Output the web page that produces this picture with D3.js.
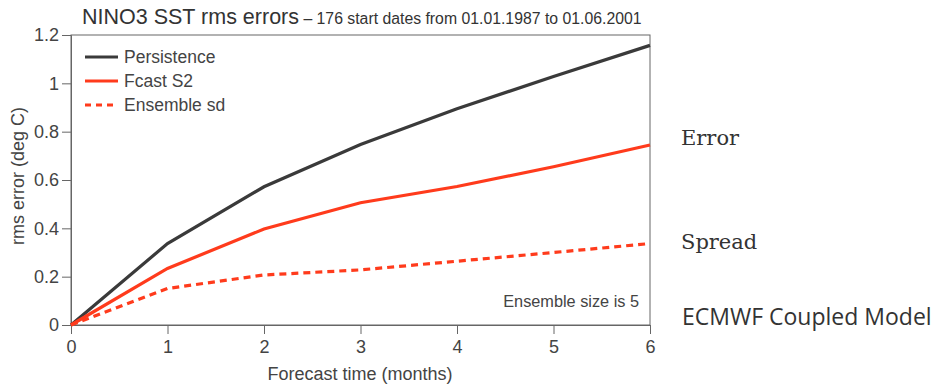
<!DOCTYPE html>
<html>
<head>
<meta charset="utf-8">
<script src="https://cdn.jsdelivr.net/npm/d3@7"></script>
<style>
  body { margin: 0; background: #fff; }
  svg { display: block; font-family: "Liberation Sans", Arial, sans-serif; }
  .axis path, .axis line { stroke: #666; }
  .axis text { fill: #444; font-size: 18px; font-family: "Liberation Sans", Arial, sans-serif; }
</style>
</head>
<body>
<div id="chart"></div>
<script>
const months = [0, 1, 2, 3, 4, 5, 6];
const persistence = [0, 0.337, 0.572, 0.747, 0.895, 1.028, 1.157];
const fcastS2 = [0, 0.234, 0.397, 0.506, 0.573, 0.655, 0.745];
const ensembleSd = [0, 0.151, 0.207, 0.228, 0.264, 0.300, 0.337];
const yTicks = [0, 0.2, 0.4, 0.6, 0.8, 1, 1.2];
const seriesNames = ["Persistence", "Fcast S2", "Ensemble sd"];
const sideLabels = ["Error", "Spread"];

function initLineGraph(selector) {
    const margin = {top: 35, right: 283, bottom: 60, left: 71};
    const width = 933 - margin.left - margin.right;
    const height = 385 - margin.top - margin.bottom;

    const xScale = d3.scaleLinear().domain([0, 6]).range([0, width]);
    const yScale = d3.scaleLinear().domain([0, 1.2]).range([height, 0]);

    const root = d3.select(selector).append("svg")
        .attr("width", 933)
        .attr("height", 385);

    const svg = root.append("g")
        .attr("transform", `translate(${margin.left}, ${margin.top})`);

    // frame
    svg.append("rect")
        .attr("width", width).attr("height", height)
        .attr("fill", "none").attr("stroke", "#666").attr("stroke-width", 1);

    svg.append("g")
        .attr("class", "x axis")
        .attr("transform", `translate(0, ${height})`)
        .call(d3.axisBottom(xScale).tickValues(months).tickSize(9).tickPadding(6).tickFormat(d3.format("d")));
    svg.append("g")
        .attr("class", "y axis")
        .call(d3.axisLeft(yScale).tickValues(yTicks).tickSize(9).tickPadding(3).tickFormat(d3.format("~g")));

    const line = d3.line()
        .x((d, i) => xScale(months[i]))
        .y(d => yScale(d));

    const styles = [
        {data: persistence, color: "#3a3a3a", dash: null},
        {data: fcastS2, color: "#ff3b1c", dash: null},
        {data: ensembleSd, color: "#ff3b1c", dash: "7,5"}
    ];

    styles.forEach(s => {
        svg.append("path")
            .datum(s.data)
            .attr("fill", "none")
            .attr("stroke", s.color)
            .attr("stroke-width", 3.2)
            .attr("stroke-dasharray", s.dash)
            .attr("d", line);
    });

    // legend
    const legend = svg.append("g").attr("transform", "translate(14, 22)");
    styles.forEach((s, i) => {
        const g = legend.append("g").attr("transform", `translate(0, ${i * 24})`);
        g.append("line")
            .attr("x1", 0).attr("x2", 33)
            .attr("stroke", s.color).attr("stroke-width", 3.2)
            .attr("stroke-dasharray", s.dash ? "6,5" : null);
        g.append("text")
            .attr("x", 39).attr("y", 6)
            .attr("fill", "#444").attr("font-size", 17.5)
            .text(seriesNames[i]);
    });

    svg.append("text")
        .attr("x", width - 11).attr("y", height - 18)
        .attr("text-anchor", "end")
        .attr("fill", "#444").attr("font-size", 16.3)
        .text("Ensemble size is 5");

    // axis titles
    svg.append("text")
        .attr("x", 360 - margin.left).attr("y", height + 55)
        .attr("text-anchor", "middle")
        .attr("fill", "#444").attr("font-size", 18)
        .text("Forecast time (months)");
    svg.append("text")
        .attr("transform", `translate(-47, ${176 - margin.top}) rotate(-90)`)
        .attr("text-anchor", "middle")
        .attr("fill", "#444").attr("font-size", 18)
        .text("rms error (deg C)");

    // title
    const title = root.append("text")
        .attr("x", 82).attr("y", 24)
        .attr("fill", "#333");
    title.append("tspan").attr("font-size", 21.5).text("NINO3 SST rms errors");
    title.append("tspan").attr("font-size", 15.8).text(" \u2013 176 start dates from 01.01.1987 to 01.06.2001");

    // side annotations
    root.selectAll("text.side")
        .data(sideLabels)
        .join("text")
        .attr("class", "side")
        .attr("x", 681)
        .attr("y", (d, i) => [145, 249][i])
        .attr("fill", "#333")
        .attr("font-family", "'DejaVu Serif', serif")
        .attr("font-size", 21)
        .text(d => d);
    root.append("text")
        .attr("x", 682).attr("y", 325)
        .attr("fill", "#333")
        .attr("font-size", 23)
        .attr("font-family", "'Open Sans', 'DejaVu Sans', sans-serif")
        .text("ECMWF Coupled Model");
}

document.addEventListener('DOMContentLoaded', function () {
    initLineGraph("#chart");
});
</script>
</body>
</html>
